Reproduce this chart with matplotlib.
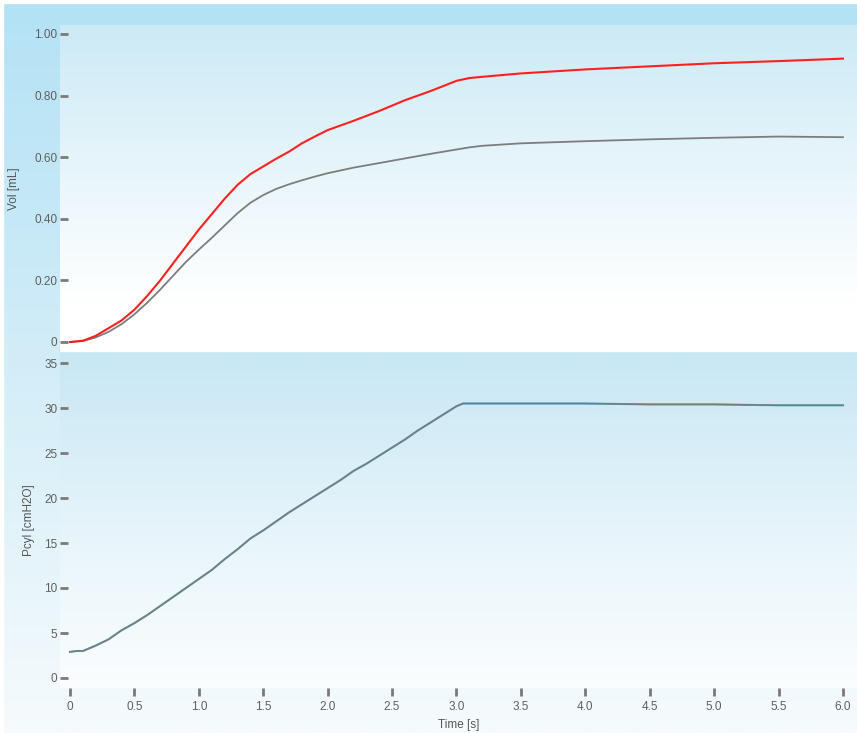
import numpy as np
import matplotlib
matplotlib.use('Agg')
import matplotlib.pyplot as plt
from matplotlib.colors import LinearSegmentedColormap
from matplotlib.patches import Rectangle

plt.rcParams.update({'font.family': 'Liberation Sans', 'font.size': 8.5})

# volume panel
t_vol = [0, 0.1, 0.2, 0.3, 0.4, 0.5, 0.6, 0.7, 0.8, 0.9, 1.0, 1.1, 1.2, 1.3, 1.4, 1.5,
         1.6, 1.7, 1.8, 1.9, 2.0, 2.2, 2.4, 2.6, 2.8, 3.0, 3.1, 3.2, 3.5, 4.0, 4.5,
         5.0, 5.5, 6.0]
vol_red = [0, 0.004, 0.02, 0.045, 0.07, 0.105, 0.15, 0.2, 0.255, 0.31, 0.365, 0.415,
           0.465, 0.51, 0.545, 0.57, 0.595, 0.618, 0.645, 0.667, 0.688, 0.718, 0.75,
           0.785, 0.815, 0.848, 0.857, 0.861, 0.872, 0.885, 0.895, 0.905, 0.912, 0.92]
vol_gray = [0, 0.003, 0.015, 0.033, 0.058, 0.09, 0.128, 0.17, 0.215, 0.26, 0.3, 0.338,
            0.378, 0.418, 0.452, 0.477, 0.497, 0.512, 0.525, 0.537, 0.548, 0.566, 0.581,
            0.596, 0.611, 0.625, 0.632, 0.637, 0.645, 0.652, 0.658, 0.663, 0.667, 0.665]

# pressure panel
t_p = [0, 0.05, 0.1, 0.2, 0.3, 0.4, 0.5, 0.6, 0.7, 0.8, 0.9, 1.0, 1.1, 1.2, 1.3, 1.4,
       1.5, 1.6, 1.7, 1.8, 1.9, 2.0, 2.1, 2.2, 2.3, 2.4, 2.5, 2.6, 2.7, 2.8, 2.9, 3.0,
       3.05, 3.5, 4.0, 4.5, 5.0, 5.5, 6.0]
pcyl = [2.9, 3.0, 3.0, 3.6, 4.3, 5.3, 6.1, 7.0, 8.0, 9.0, 10.0, 11.0, 12.0, 13.2, 14.3,
        15.5, 16.4, 17.4, 18.4, 19.3, 20.2, 21.1, 22.0, 23.0, 23.8, 24.7, 25.6, 26.5,
        27.5, 28.4, 29.3, 30.2, 30.5, 30.5, 30.5, 30.4, 30.4, 30.3, 30.3]

vol_ticks = [0, 0.2, 0.4, 0.6, 0.8, 1.0]
vol_labels = ['0', '0.20', '0.40', '0.60', '0.80', '1.00']
p_ticks = [0, 5, 10, 15, 20, 25, 30, 35]
x_ticks = [0, 0.5, 1, 1.5, 2, 2.5, 3, 3.5, 4, 4.5, 5, 5.5, 6]
x_labels = ['0', '0.5', '1.0', '1.5', '2.0', '2.5', '3.0', '3.5', '4.0', '4.5', '5.0',
            '5.5', '6.0']

W, H = 857, 733
fig = plt.figure(figsize=(W / 100, H / 100), dpi=100)

# figure background gradient
bg = fig.add_axes([0, 0, 1, 1], zorder=-10)
bg_cmap = LinearSegmentedColormap.from_list('bg', ['#b3e2f5', '#d3edf8', '#f6fbfd'])
bg.imshow(np.linspace(0, 1, 256).reshape(-1, 1), cmap=bg_cmap, aspect='auto',
          extent=[0, 1, 0, 1])
bg.set_xlim(0, 1); bg.set_ylim(0, 1)
bg.axis('off')
fig.patches.append(Rectangle((0, 1 - 3 / H), 1, 3 / H, transform=fig.transFigure,
                             color='white', zorder=-5))
fig.patches.append(Rectangle((0, 0), 3 / W, 1, transform=fig.transFigure,
                             color='white', zorder=-5))

left = 60 / W
ax1 = fig.add_axes([left, 1 - 352 / H, 1 - left, 327 / H])
ax2 = fig.add_axes([left, 1 - 688 / H, 1 - left, 335 / H])

grad1 = LinearSegmentedColormap.from_list('g1', [(0, '#cceaf5'), (0.55, '#eef8fc'), (0.85, '#ffffff'), (1, '#ffffff')])
grad2 = LinearSegmentedColormap.from_list('g2', [(0, '#c8e7f4'), (0.6, '#eaf6fb'), (1, '#fbfdfe')])
for ax, cm in ((ax1, grad1), (ax2, grad2)):
    ax.imshow(np.linspace(0, 1, 256).reshape(-1, 1), cmap=cm, aspect='auto',
              extent=[0, 1, 0, 1], transform=ax.transAxes, zorder=0)
    for s in ax.spines.values():
        s.set_visible(False)
    ax.tick_params(axis='y', direction='in', length=6, width=2, color='#7a7a7a',
                   labelcolor='#5f5f5f', pad=2)
    ax.set_xlim(-10 / 128.83, 6 + 14 / 128.83)

ax1.plot(t_vol, vol_gray, color='#7d7d7d', lw=1.3, zorder=3)
ax1.plot(t_vol, vol_red, color='#ff1f1f', lw=1.5, zorder=4)
ax1.set_ylim(-10 / 308, 1 + 9 / 308)
ax1.set_yticks(vol_ticks, vol_labels)
ax1.set_xticks([])
ax1.set_ylabel('Vol [mL]', color='#555555')
ax1.yaxis.set_label_coords(-0.050, 0.5)

ax2.plot(t_p, pcyl, color='#5aaccc', lw=1.5, zorder=3)
ax2.plot(t_p, pcyl, color='#7a7a7a', lw=1.1, zorder=4)
ax2.set_ylim(-10 / 9, 35 + 10 / 9)
ax2.set_yticks(p_ticks)
ax2.set_xticks(x_ticks, x_labels)
ax2.tick_params(axis='x', direction='out', length=6, width=2, color='#7a7a7a',
                labelcolor='#5f5f5f', pad=3)
ax2.set_ylabel('Pcyl [cmH2O]', color='#555555')
ax2.yaxis.set_label_coords(-0.031, 0.5)
ax2.set_xlabel('Time [s]', color='#555555', labelpad=5)

fig.savefig('out.png', dpi=100)
